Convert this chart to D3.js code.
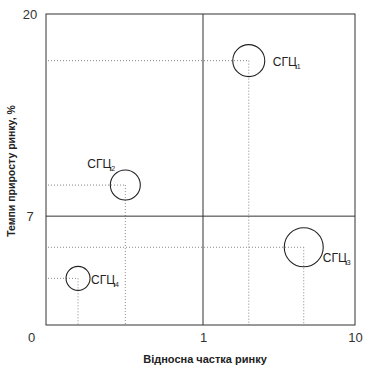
<!DOCTYPE html>
<html>
<head>
<meta charset="utf-8">
<script src="https://cdn.jsdelivr.net/npm/d3@7"></script>
<style>
  html, body { margin: 0; padding: 0; background: #fff; }
  svg { display: block; font-family: "Liberation Sans", Arial, sans-serif; }
</style>
</head>
<body>
<svg id="chart" width="367" height="370"></svg>
<script>
// ---- data ----
const units = ["1", "2", "3", "4"];           // СГЦ subscripts
const marketShare = [2.0, 0.32, 4.6, 0.16];    // relative market share
const marketGrowth = [17, 9, 5, 3];            // market growth rate, %
const salesVolume = [256, 225, 380, 144];      // bubble size
const xTickValues = [0.1, 1, 10];
const xTickLabels = ["0", "1", "10"];
const yTickValues = [0, 7, 20];
const xDivider = 1;
const yDivider = 7;

(function () {
// ---- layout ----
const pLeft = 46, pRight = 355, pTop = 14, pBottom = 325, pMid = 203;
const svg = d3.select("#chart");

const x = d3.scaleLog().domain([0.1, 1, 10]).range([pLeft, pMid, pRight]);
const y = d3.scaleLinear().domain([0, 20]).range([pBottom, pTop]);
const r = d3.scaleSqrt().domain([0, 400]).range([0, 20]);

const lineColor = "#333";
const dotColor = "#888";
const textColor = "#333";

// label offsets (relative to bubble centre)
const labelPos = [
  { dx: 24, dy: 5 },
  { dx: -38, dy: -17 },
  { dx: 19, dy: 15 },
  { dx: 13, dy: 6 }
];

// dotted guide lines
const g = svg.append("g");
units.forEach((u, i) => {
  const cx = x(marketShare[i]), cy = y(marketGrowth[i]);
  g.append("line").attr("x1", pLeft + 2).attr("x2", cx).attr("y1", cy).attr("y2", cy)
    .attr("stroke", dotColor).attr("stroke-width", 1).attr("stroke-dasharray", "1,2");
  g.append("line").attr("x1", cx).attr("x2", cx).attr("y1", cy).attr("y2", pBottom)
    .attr("stroke", dotColor).attr("stroke-width", 1).attr("stroke-dasharray", "1,2");
});

// frame and dividers
svg.append("rect").attr("x", pLeft).attr("y", pTop).attr("width", pRight - pLeft).attr("height", pBottom - pTop)
  .attr("fill", "none").attr("stroke", lineColor).attr("stroke-width", 1);
svg.append("line").attr("x1", x(xDivider)).attr("x2", x(xDivider)).attr("y1", pTop).attr("y2", pBottom)
  .attr("stroke", lineColor).attr("stroke-width", 1);
svg.append("line").attr("x1", pLeft).attr("x2", pRight).attr("y1", y(yDivider)).attr("y2", y(yDivider))
  .attr("stroke", lineColor).attr("stroke-width", 1);

// bubbles
svg.append("g").selectAll("circle").data(units).join("circle")
  .attr("cx", (d, i) => x(marketShare[i]))
  .attr("cy", (d, i) => y(marketGrowth[i]))
  .attr("r", (d, i) => r(salesVolume[i]))
  .attr("fill", "none").attr("stroke", "#222").attr("stroke-width", 1.1);

// bubble labels
units.forEach((u, i) => {
  const cx = x(marketShare[i]), cy = y(marketGrowth[i]);
  const t = svg.append("text")
    .attr("x", cx + labelPos[i].dx).attr("y", cy + labelPos[i].dy)
    .attr("font-size", 12).attr("fill", "#222");
  t.append("tspan").text("СГЦ");
  t.append("tspan").attr("dy", 3).attr("font-size", 7).text(u);
});

// y axis ticks
const yAxis = d3.axisLeft(y).tickValues(yTickValues.filter(v => v !== 0)).tickSize(0).tickPadding(8);
const ya = svg.append("g").attr("transform", `translate(${pLeft},0)`).call(yAxis);
ya.select(".domain").remove();
ya.selectAll("text").attr("font-size", 13).attr("fill", textColor)
  .attr("font-family", "Liberation Sans, Arial, sans-serif")
  .attr("text-anchor", "middle").attr("x", -16);

// x axis ticks
const xAxis = d3.axisBottom(x).tickValues(xTickValues).tickSize(0).tickPadding(7)
  .tickFormat((d, i) => xTickLabels[i]);
const xa = svg.append("g").attr("transform", `translate(0,${pBottom})`).call(xAxis);
xa.select(".domain").remove();
xa.selectAll("text").attr("font-size", 13).attr("fill", textColor)
  .attr("font-family", "Liberation Sans, Arial, sans-serif")
  .attr("dy", "0.75em")
  .attr("x", (d) => d === 0.1 ? -15 : 0);

// axis titles
svg.append("text").attr("x", 205).attr("y", 363).attr("text-anchor", "middle")
  .attr("font-size", 11).attr("font-weight", "bold").attr("fill", "#222")
  .text("Відносна частка ринку");
svg.append("text").attr("transform", "translate(15,171) rotate(-90)").attr("text-anchor", "middle")
  .attr("font-size", 10.5).attr("font-weight", "bold").attr("fill", "#222")
  .text("Темпи приросту ринку, %");
})();
</script>
</body>
</html>
